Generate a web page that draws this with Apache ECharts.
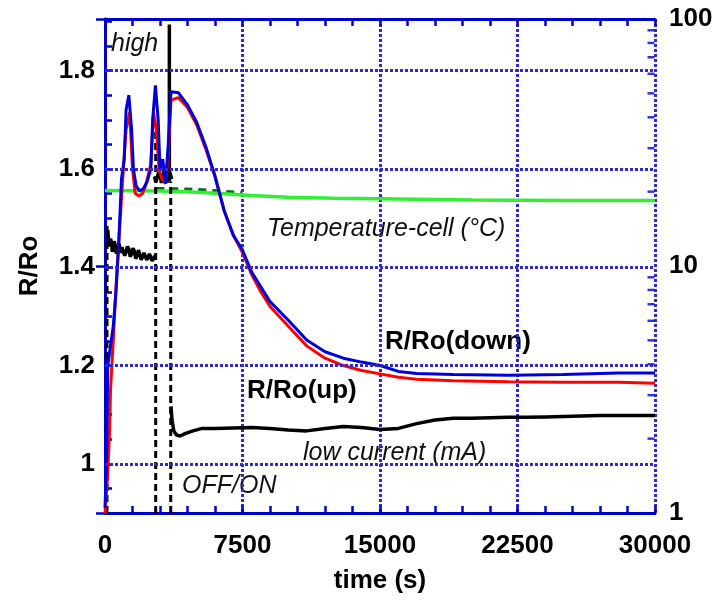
<!DOCTYPE html>
<html>
<head>
<meta charset="utf-8">
<title>R/Ro vs time</title>
<script src="https://cdn.jsdelivr.net/npm/echarts@6/dist/echarts.min.js"></script>
<style>
    html, body { margin: 0; padding: 0; background: #fff; }
    #rr_chart { width: 718px; height: 600px; }
</style>
</head>
<body>
<div id="rr_chart"></div>
<script>

// Chart data
// ------------------------------

// R/Ro (down) - blue
var downTime = [0, 80, 150, 300, 450, 600, 750, 900, 1050, 1150, 1300, 1450, 1550, 1700, 1900, 2100, 2300, 2500, 2600, 2750, 2900, 3000, 3150, 3300, 3450, 3600,
    4000, 4500, 5000, 5500, 6000, 6500, 7000, 7500, 8000, 8500, 9000, 10000, 11000, 12000, 13000, 14000, 15000, 16000, 17000, 19000, 22000, 25000, 28000, 30000];
var downValue = [0.91, 1.0, 1.2, 1.24, 1.28, 1.35, 1.45, 1.58, 1.62, 1.72, 1.75, 1.68, 1.6, 1.565, 1.555, 1.56, 1.575, 1.6, 1.7, 1.77, 1.7, 1.6, 1.62, 1.57, 1.65, 1.757,
    1.755, 1.73, 1.695, 1.645, 1.585, 1.515, 1.465, 1.435, 1.39, 1.36, 1.33, 1.292, 1.252, 1.228, 1.215, 1.207, 1.2, 1.188, 1.184, 1.182, 1.18, 1.182, 1.185, 1.185];

// R/Ro (up) - red
var upTime = [0, 150, 250, 300, 450, 600, 800, 1000, 1150, 1350, 1500, 1650, 1850, 2050, 2250, 2500, 2650, 2800, 2950, 3100, 3300, 3450, 3600,
    4000, 4500, 5000, 5500, 6000, 6500, 7000, 7500, 8000, 8500, 9000, 10000, 11000, 12000, 13000, 14000, 15000, 16000, 17000, 19000, 22000, 25000, 28000, 30000];
var upValue = [0.9, 0.98, 1.07, 1.15, 1.25, 1.36, 1.48, 1.6, 1.68, 1.715, 1.6, 1.55, 1.545, 1.55, 1.57, 1.61, 1.715, 1.68, 1.6, 1.58, 1.57, 1.63, 1.74,
    1.745, 1.725, 1.69, 1.64, 1.585, 1.515, 1.465, 1.43, 1.385, 1.35, 1.32, 1.28, 1.24, 1.215, 1.2, 1.19, 1.183, 1.176, 1.172, 1.169, 1.167, 1.166, 1.166, 1.164];

// Temperature-cell (°C) - right axis
var tempTime = [0, 3000, 5000, 6500, 8000, 10000, 12500, 15000, 20000, 25000, 30000];
var tempValue = [20.2, 20.1, 19.9, 19.6, 19.3, 19.0, 18.8, 18.7, 18.5, 18.4, 18.4];
var tempDarkTime = [2800, 4500, 6000, 7500];
var tempDarkValue = [20.6, 20.5, 20.2, 19.8];

// Current (mA) - right axis, null = gap
var currentTime = [90, 120, 150, 200, 250, 300, 350, 400, 450, 500, 550, 625, 700, 775, 850, 925, 1000, 1075, 1150, 1225, 1300, 1375, 1450, 1525,
    1600, 1675, 1750, 1825, 1900, 1975, 2050, 2125, 2200, 2275, 2350, 2425, 2500, 2575, 2650, 2720,
    null,
    2700, 2775, 2850, 2925, 3000, 3075, 3150, 3225, 3300, 3375, 3450, 3525, 3600, 3650,
    null,
    3510, 3510,
    null,
    3600, 3650, 3750, 3900, 4100, 4400, 4800, 5300, 6000, 7000, 8000, 9000, 10000, 11000, 12000, 13000, 14000, 15000, 16000, 17000,
    18000, 19000, 20000, 21000, 22000, 23000, 24000, 25000, 26000, 27000, 28000, 29000, 30000];
var currentValue = [14.5, 13.2, 14.0, 12.6, 12.0, 12.9, 12.5, 11.4, 11.6, 12.6, 12.2, 11.2, 11.8, 12.3, 11.3, 11.9, 11.9, 11.0, 11.4, 12.0,
    11.7, 10.9, 11.2, 11.8, 11.5, 10.7, 11.0, 11.6, 11.4, 10.6, 10.9, 11.3, 11.2, 10.6, 10.8, 11.2, 11.1, 10.5, 10.7, 11.0,
    null,
    23, 21.8, 22, 24, 23.5, 21.7, 22, 24.2, 23, 21.8, 22.5, 24, 23, 22.5,
    null,
    22, 95,
    null,
    2.7, 2.4, 2.15, 2.07, 2.05, 2.1, 2.15, 2.2, 2.2, 2.21, 2.22, 2.2, 2.17, 2.15, 2.2, 2.24, 2.22, 2.18, 2.2, 2.3,
    2.38, 2.42, 2.42, 2.43, 2.44, 2.44, 2.45, 2.46, 2.47, 2.48, 2.48, 2.48, 2.48];

// OFF/ON switching (dashed)
var switchTime = [110, 110, null, 2765, 2765, null, 3585, 3585];
var switchValue = [1, 14.5, null, 1, 36, null, 1, 22];

// Axis ticks
var leftGridValues = [1, 1.2, 1.4, 1.6, 1.8];
var rightMinorTicks = [2, 3, 4, 5, 6, 7, 8, 9, 20, 30, 40, 50, 60, 70, 80, 90];


// Setup module
// ------------------------------

var EchartsRRoTime = function() {

    var zip = function(xs, ys) {
        var out = [];
        for (var i = 0; i < xs.length; i++) {
            out.push(xs[i] === null ? [null, null] : [xs[i], ys[i]]);
        }
        return out;
    };

    var _rroChart = function() {
        if (typeof echarts == 'undefined') {
            console.warn('Warning - echarts.min.js is not loaded.');
            return;
        }

        var chart_element = document.getElementById('rr_chart');
        if (!chart_element) return;

        var chart = echarts.init(chart_element, null, { renderer: 'canvas' });

        var blue = '#0000cc';
        var gridStyle = { color: '#2b2bd6', width: 3, type: [3, 2] };
        var labelFont = {
            color: '#000',
            fontFamily: '"Liberation Sans", Arial, sans-serif',
            fontWeight: 'bold',
            fontSize: 26
        };
        var italicFont = 'italic 25px "Liberation Sans", Arial, sans-serif';
        var boldFont = 'bold 26px "Liberation Sans", Arial, sans-serif';

        chart.setOption({
            animation: false,
            backgroundColor: '#fff',

            grid: {
                left: 105,
                right: 63,
                top: 19,
                bottom: 87,
                containLabel: false
            },

            // Horizontal axes
            xAxis: [{
                type: 'value',
                min: 0,
                max: 30000,
                interval: 7500,
                position: 'bottom',
                name: 'time (s)',
                nameLocation: 'middle',
                nameGap: 55,
                nameTextStyle: labelFont,
                axisLine: { lineStyle: { color: blue, width: 3 } },
                axisTick: { inside: true, length: 7, lineStyle: { color: blue, width: 2.5 } },
                minorTick: { show: true, splitNumber: 5, length: 7, lineStyle: { color: blue, width: 2.5 } },
                axisLabel: Object.assign({
                    margin: 20,
                    formatter: function(v) { return String(v); }
                }, labelFont),
                splitLine: { show: true, lineStyle: gridStyle }
            }, {
                type: 'value',
                min: 0,
                max: 30000,
                interval: 7500,
                position: 'top',
                axisLine: { lineStyle: { color: blue, width: 3 } },
                axisTick: { inside: true, length: 7, lineStyle: { color: blue, width: 2.5 } },
                minorTick: { show: true, splitNumber: 5, length: 7, lineStyle: { color: blue, width: 2.5 } },
                axisLabel: { show: false },
                splitLine: { show: false }
            }],

            // Vertical axes
            yAxis: [{
                type: 'value',
                min: 0.9,
                max: 1.905,
                interval: 0.1,
                position: 'left',
                name: 'R/Ro',
                nameLocation: 'middle',
                nameGap: 62,
                nameRotate: 90,
                nameTextStyle: labelFont,
                axisLine: { show: true, lineStyle: { color: blue, width: 3 } },
                axisTick: { inside: true, length: 7, lineStyle: { color: blue, width: 2.5 } },
                minorTick: { show: true, splitNumber: 2, length: 7, lineStyle: { color: blue, width: 2.5 } },
                axisLabel: Object.assign({
                    margin: 10,
                    showMaxLabel: false,
                    formatter: function(v) {
                        var k = Math.round(v * 10);
                        if (k % 2 !== 0) return '';
                        return k === 10 ? '1' : (k / 10).toFixed(1);
                    }
                }, labelFont),
                splitLine: { show: false }
            }, {
                type: 'log',
                logBase: 10,
                min: 1,
                max: 100,
                position: 'right',
                axisLine: { show: true, lineStyle: { color: blue, width: 3 } },
                axisTick: { inside: true, length: 9, lineStyle: { color: blue, width: 2.5 } },
                axisLabel: Object.assign({ margin: 14 }, labelFont),
                splitLine: { show: false }
            }],

            // Text annotations
            graphic: [
                { type: 'text', x: 111, y: 44, style: { text: 'high', font: italicFont, fill: '#111', verticalAlign: 'middle' } },
                { type: 'text', x: 267, y: 229, style: { text: 'Temperature-cell (°C)', font: italicFont, fill: '#111', verticalAlign: 'middle' } },
                { type: 'text', x: 385, y: 342, style: { text: 'R/Ro(down)', font: boldFont, fill: '#000', verticalAlign: 'middle' } },
                { type: 'text', x: 247, y: 391, style: { text: 'R/Ro(up)', font: boldFont, fill: '#000', verticalAlign: 'middle' } },
                { type: 'text', x: 303, y: 453, style: { text: 'low current (mA)', font: italicFont, fill: '#111', verticalAlign: 'middle' } },
                { type: 'text', x: 182, y: 486, style: { text: 'OFF/ON', font: italicFont, fill: '#111', verticalAlign: 'middle' } }
            ],

            series: [
                {
                    name: 'grid',
                    type: 'line',
                    data: [],
                    silent: true,
                    markLine: {
                        silent: true,
                        symbol: 'none',
                        label: { show: false },
                        lineStyle: gridStyle,
                        data: leftGridValues.map(function(v) { return { yAxis: v }; })
                    }
                },
                {
                    name: 'Temperature dark',
                    type: 'line',
                    yAxisIndex: 1,
                    symbol: 'none',
                    lineStyle: { color: '#0a6a1a', width: 3, type: [8, 6] },
                    data: zip(tempDarkTime, tempDarkValue)
                },
                {
                    name: 'Temperature-cell',
                    type: 'line',
                    yAxisIndex: 1,
                    symbol: 'none',
                    lineStyle: { color: '#33ee33', width: 3.5 },
                    data: zip(tempTime, tempValue)
                },
                {
                    name: 'OFF/ON',
                    type: 'line',
                    yAxisIndex: 1,
                    symbol: 'none',
                    connectNulls: false,
                    lineStyle: { color: '#000', width: 3, type: [7, 4] },
                    data: zip(switchTime, switchValue)
                },
                {
                    name: 'current',
                    type: 'line',
                    yAxisIndex: 1,
                    symbol: 'none',
                    connectNulls: false,
                    lineStyle: { color: '#000', width: 3.5 },
                    data: zip(currentTime, currentValue)
                },
                {
                    name: 'R/Ro(up)',
                    type: 'line',
                    symbol: 'none',
                    lineStyle: { color: '#ff0000', width: 3 },
                    data: zip(upTime, upValue)
                },
                {
                    name: 'R/Ro(down)',
                    type: 'line',
                    symbol: 'none',
                    lineStyle: { color: '#0000dd', width: 3 },
                    data: zip(downTime, downValue)
                },
                {
                    name: 'log minor ticks',
                    type: 'scatter',
                    yAxisIndex: 1,
                    silent: true,
                    clip: false,
                    symbol: 'rect',
                    symbolSize: [7, 2.5],
                    symbolOffset: [-4, 0],
                    itemStyle: { color: blue },
                    data: rightMinorTicks.map(function(v) { return [30000, v]; })
                }
            ]
        });

        window.addEventListener('resize', function() {
            chart.resize();
        });
    };

    return {
        init: function() {
            _rroChart();
        }
    }
}();


// Initialize module
// ------------------------------

document.addEventListener('DOMContentLoaded', function() {
    EchartsRRoTime.init();
});
</script>
</body>
</html>
